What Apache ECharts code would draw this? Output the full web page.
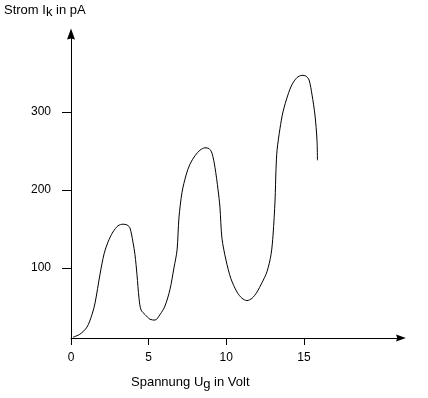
<!DOCTYPE html>
<html>
<head>
<meta charset="utf-8">
<script src="https://cdn.jsdelivr.net/npm/echarts@6/dist/echarts.min.js"></script>
<style>
	html, body { margin: 0; padding: 0; background: #fff; }
	#chart { width: 428px; height: 398px; }
</style>
</head>
<body>
<div id="chart"></div>
<script type="text/javascript">
	// Spannung Ug (Volt)
	var spannung = [0.13, 0.58, 1.03, 1.35, 1.55, 1.87, 2.13, 2.38, 2.70, 3.03, 3.35, 3.61, 3.80, 3.99, 4.12, 4.25, 4.38, 4.51, 4.77, 5.09,
		5.41, 5.73, 6.05, 6.37, 6.63, 6.83, 6.95, 7.15, 7.41, 7.66, 7.99, 8.31, 8.63, 8.89, 9.08, 9.27, 9.47, 9.59, 9.72, 9.98,
		10.30, 10.69, 11.01, 11.33, 11.66, 11.98, 12.30, 12.62, 12.88, 13.01, 13.14, 13.20, 13.27, 13.46, 13.65, 13.97, 14.23, 14.55, 14.88, 15.13,
		15.33, 15.52, 15.71, 15.84, 15.87];
	// Strom Ik (pA)
	var strom = [11, 15, 24, 40, 55, 92, 118, 133, 146, 154, 156, 155, 151, 133, 117, 91, 61, 46, 40, 34,
		33, 40, 51, 72, 100, 123, 164, 197, 219, 233, 244, 251, 254, 253, 247, 229, 200, 178, 138, 110,
		86, 69, 61, 58, 61, 69, 81, 95, 117, 142, 187, 226, 251, 279, 300, 322, 335, 344, 347, 346,
		341, 322, 296, 264, 238];
	var xTicks = [0, 5, 10, 15];
	var yTicks = [100, 200, 300];

	var kurve = [];
	for (var i = 0; i < spannung.length; i++) {
		kurve.push([spannung[i], strom[i]]);
	}

	var schrift = 'Liberation Sans, Arial, sans-serif';
	var pfeil = 'path://M5,0 L10,14 L5,12.5 L0,14 Z';
	var myChart = echarts.init(document.getElementById('chart'));
	var option = {
		animation: false,
		grid: { left: 71, right: 27, top: 34, bottom: 60 },
		xAxis: {
			type: 'value',
			min: 0,
			max: 21.25,
			axisLine: { lineStyle: { color: '#000', width: 1 }, symbol: ['none', pfeil], symbolSize: [7, 16] },
			axisTick: { show: true, length: 7, lineStyle: { color: '#000' }, customValues: xTicks },
			axisLabel: { color: '#000', fontSize: 12, fontFamily: schrift, margin: 14, customValues: xTicks },
			splitLine: { show: false }
		},
		yAxis: {
			type: 'value',
			min: 10,
			max: 400,
			axisLine: { show: true, lineStyle: { color: '#000', width: 1 }, symbol: ['none', pfeil], symbolSize: [8, 14] },
			axisTick: { show: true, length: 9, lineStyle: { color: '#000' }, customValues: yTicks },
			axisLabel: { color: '#000', fontSize: 12, fontFamily: schrift, margin: 20, customValues: yTicks },
			splitLine: { show: false }
		},
		graphic: [
			{
				type: 'text', left: 4, top: 0,
				style: {
					text: '{a|Strom I}{s|k}{a| in pA}',
					fill: '#000',
					rich: {
						a: { fontSize: 13, fontFamily: schrift, lineHeight: 15, verticalAlign: 'top' },
						s: { fontSize: 13, fontFamily: schrift, lineHeight: 15, padding: [6, 0, 0, 0], verticalAlign: 'bottom' }
					}
				}
			},
			{
				type: 'text', left: 131, top: 374,
				style: {
					text: '{a|Spannung U}{s|g}{a| in Volt}',
					fill: '#000',
					rich: {
						a: { fontSize: 13, fontFamily: schrift, lineHeight: 15, verticalAlign: 'top' },
						s: { fontSize: 13, fontFamily: schrift, lineHeight: 15, padding: [4, 0, 0, 0], verticalAlign: 'bottom' }
					}
				}
			}
		],
		series: [
			{
				type: 'line',
				data: kurve,
				showSymbol: false,
				smooth: 0.3,
				lineStyle: { color: '#000', width: 1 }
			}
		]
	};
	myChart.setOption(option);
</script>
</body>
</html>
